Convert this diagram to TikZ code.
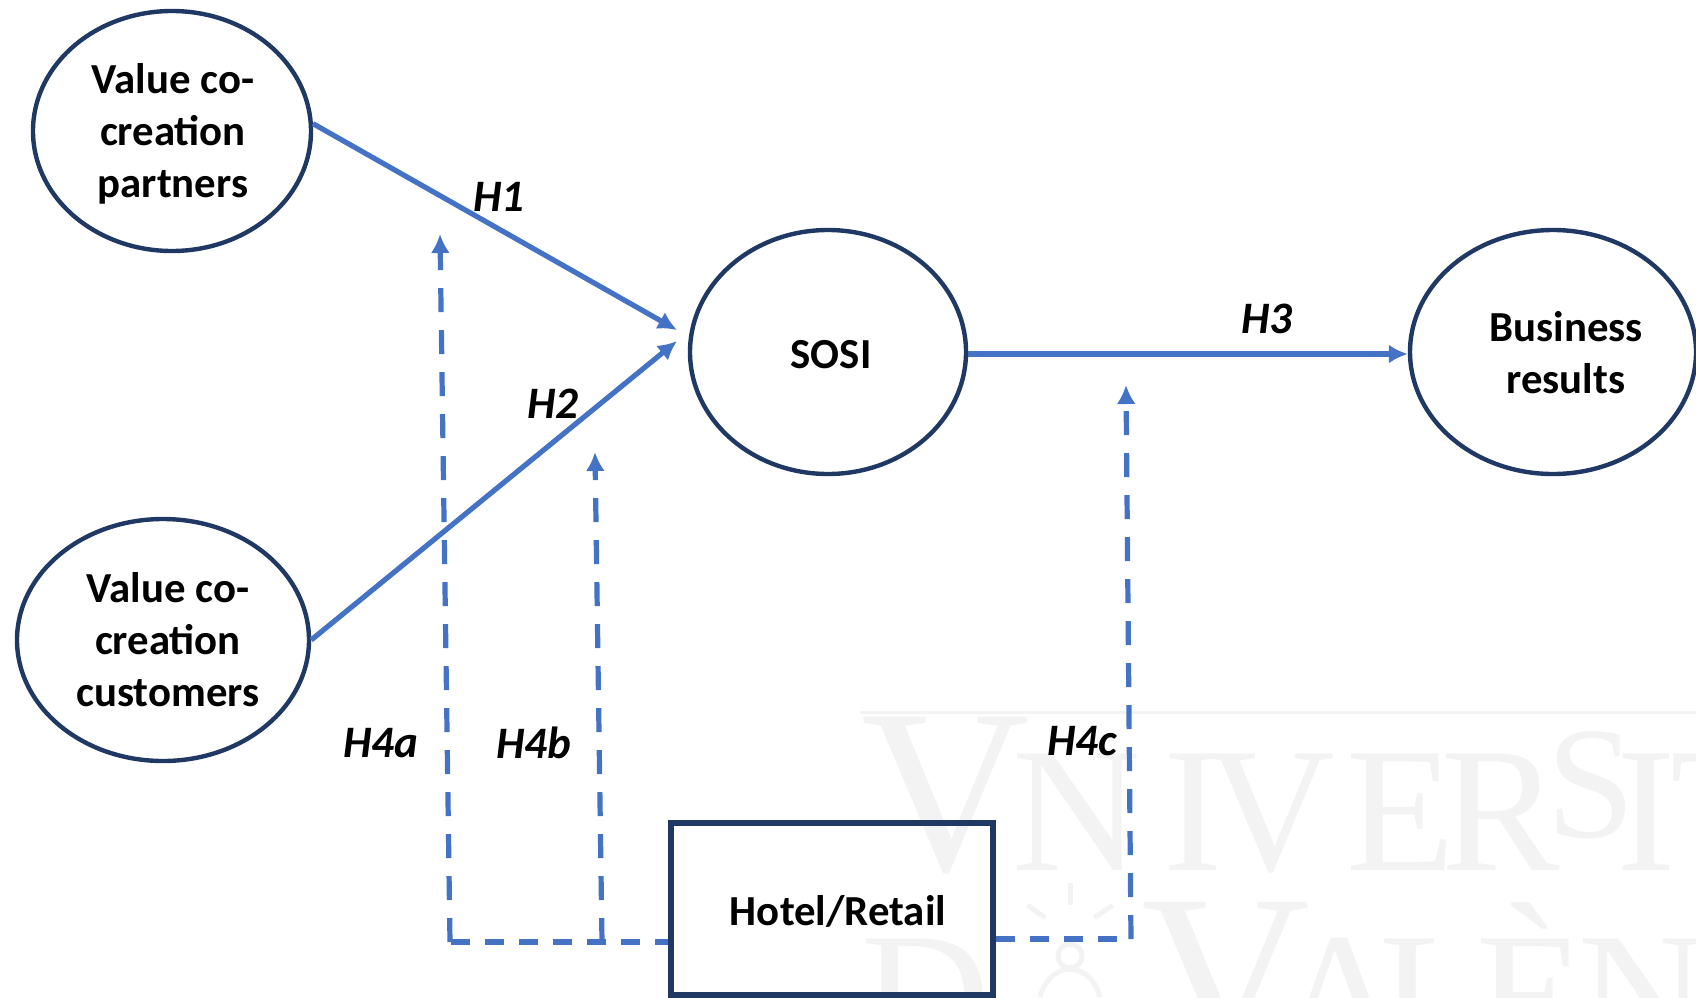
\documentclass[tikz,border=0pt]{standalone}
\usepackage{fontspec}
\setmainfont{Carlito}
\newfontfamily\markfont{Liberation Serif}
\usetikzlibrary{shapes.geometric, arrows.meta}
\definecolor{linkblue}{HTML}{4472C4}
\definecolor{edgenavy}{HTML}{1F3864}
\definecolor{markgray}{HTML}{F3F3F3}
\tikzset{
    construct/.style={ellipse, draw=edgenavy, line width=2.2pt, inner sep=0pt},
    moderator/.style={rectangle, draw=edgenavy, line width=2.6pt, inner sep=0pt},
    caption/.style={inner sep=0pt, align=center, font=\fontsize{21.4}{26}\selectfont\bfseries},
    direct/.style={linkblue, line width=2.6pt, -{Latex[length=9.5pt,width=9.5pt]}},
    dashlink/.style={linkblue, line width=2.6pt, dash pattern=on 9.5pt off 7.5pt},
    dasharrow/.style={linkblue, line width=2.6pt, dash pattern=on 12pt off 9pt, -{Latex[length=9.5pt,width=9.5pt]}},
    hypo/.style={inner sep=0pt, font=\fontsize{22.5}{26}\selectfont\bfseries\itshape},
    markbig/.style={markgray, anchor=base west, inner sep=0pt, font=\fontsize{117}{117}\markfont},
    marksmall/.style={markgray, anchor=base west, inner sep=0pt, font=\fontsize{89}{89}\markfont}
}

\begin{document}
\begin{tikzpicture}[x=0.5pt, y=-0.5pt]
    \useasboundingbox (0, 0) rectangle (1696, 997);
    \begin{scope}
        \clip (0, 0) rectangle (1696, 997);
        \draw[markgray, line width=1.5pt] (860, 712) -- (1696, 712);
        \node[markbig] (topv) at (861, 870) {V};
        \foreach \letter/\xpos in {N/1012, I/1163, V/1206, E/1346, R/1441, I/1616, T/1670} {
            \node[marksmall] (top\xpos) at (\xpos, 870) {\letter};
        }
        \node[markbig, font=\fontsize{80}{80}\markfont] (tops) at (1546, 837) {S};
        \node[marksmall] (botd) at (861, 1055) {D};
        \node[markbig] (botv) at (1141, 1055) {V};
        \foreach \letter/\xpos in {A/1276, L/1379, È/1476, N/1578} {
            \node[marksmall] (bot\xpos) at (\xpos, 1055) {\letter};
        }
        \foreach \ang in {35, 90, 145} {
            \draw[markgray, line width=2.5pt] (1070, 935) ++(\ang:-30) -- ++(\ang:-22);
        }
        \draw[markgray, line width=2.5pt] (1070, 956) circle (12);
        \draw[markgray, line width=2.5pt] (1040, 997) .. controls (1050, 960) and (1090, 960) .. (1100, 997);
    \end{scope}

    \node[construct, minimum width=139pt, minimum height=120pt] (partners) at (172, 131) {};
    \node[construct, minimum width=146pt, minimum height=121pt] (customers) at (163, 640) {};
    \node[construct, minimum width=138pt, minimum height=122pt] (sosi) at (828, 352) {};
    \node[construct, minimum width=143pt, minimum height=122pt] (results) at (1553, 352) {};
    \node[moderator, minimum width=161pt, minimum height=86pt] (hotel) at (832, 909) {};

    \node[caption] (partnerstext) at (173, 134) {Value co-\\creation\\partners};
    \node[caption] (customerstext) at (168, 640) {Value co-\\creation\\customers};
    \node[caption] (sositext) at (831, 355) {SOSI};
    \node[caption] (resultstext) at (1566, 353) {Business\\results};
    \node[caption] (hoteltext) at (838, 911) {Hotel/Retail};

    \coordinate (tipone) at (677, 330);
    \coordinate (tiptwo) at (677, 341);
    \coordinate (level) at (1200, 354);
    \coordinate (tipa) at (440, 234);
    \coordinate (tipb) at (595, 452);
    \coordinate (tipc) at (1126, 385);
    \coordinate (jointa) at (450, 942);
    \coordinate (jointb) at (602, 942);
    \coordinate (jointc) at (1131, 939);

    \draw[direct] (partners.3) -- (tipone);
    \draw[direct] (customers.east) -- (tiptwo);
    \draw[direct] (sosi.east |- level) -- (results.west |- level);
    \draw[dashlink, dash phase=3pt] (hotel.west |- jointa) -- (jointa);
    \draw[dasharrow] (jointa) -- (tipa);
    \draw[dasharrow] (jointb) -- (tipb);
    \draw[dashlink] (hotel.east |- jointc) -- (jointc);
    \draw[dasharrow] (jointc) -- (tipc);

    \node[hypo] (hone) at (499, 197) {H1};
    \node[hypo] (htwo) at (553, 404) {H2};
    \node[hypo] (hthree) at (1267, 319) {H3};
    \node[hypo] (hfoura) at (381, 743) {H4a};
    \node[hypo] (hfourb) at (534, 743) {H4b};
    \node[hypo] (hfourc) at (1082, 741) {H4c};
\end{tikzpicture}
\end{document}
